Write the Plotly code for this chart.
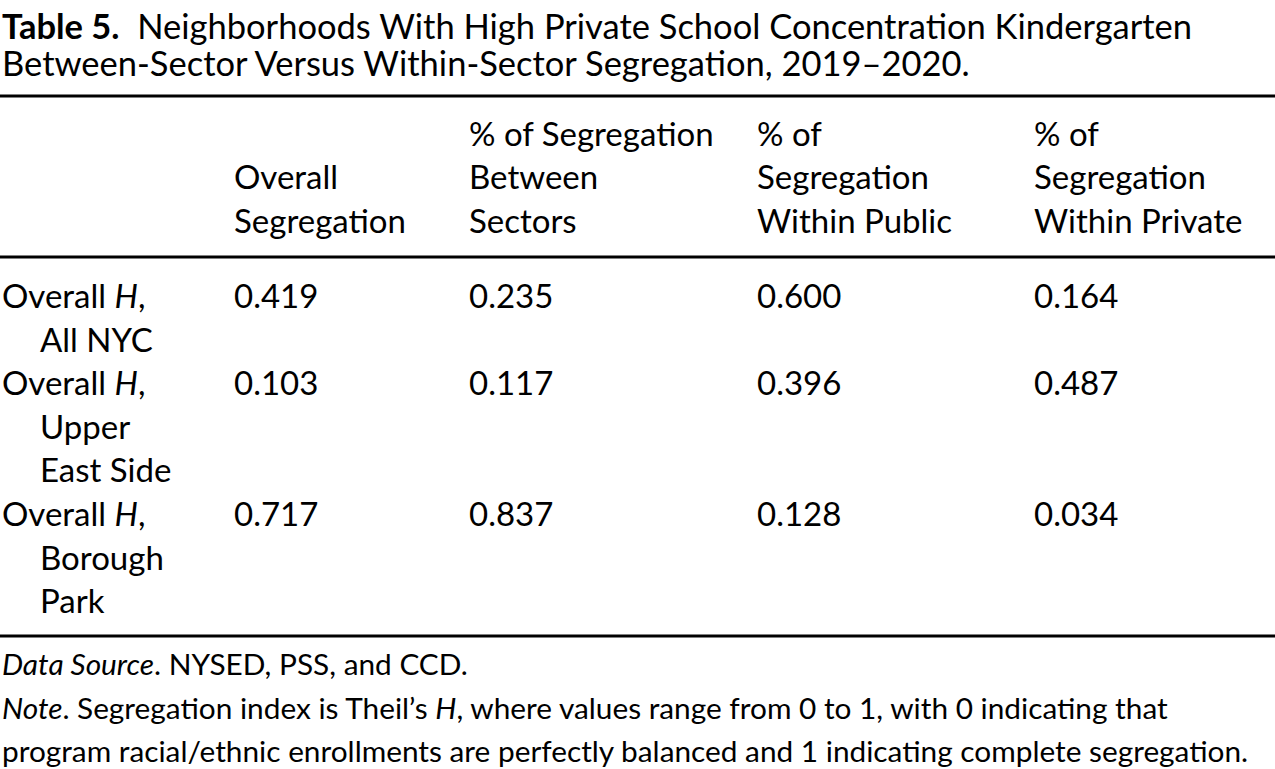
import plotly.graph_objects as go

# ---- data ----
title_bold = "Table 5."
title_lines = [
    "Neighborhoods With High Private School Concentration Kindergarten",
    "Between-Sector Versus Within-Sector Segregation, 2019–2020.",
]
col_headers = [
    [],
    ["Overall", "Segregation"],
    ["% of Segregation", "Between", "Sectors"],
    ["% of", "Segregation", "Within Public"],
    ["% of", "Segregation", "Within Private"],
]
row_labels = [
    ["Overall <i>H</i>,", "All NYC"],
    ["Overall <i>H</i>,", "Upper", "East Side"],
    ["Overall <i>H</i>,", "Borough", "Park"],
]
overall_seg = [0.419, 0.103, 0.717]
between_sectors = [0.235, 0.117, 0.837]
within_public = [0.600, 0.396, 0.128]
within_private = [0.164, 0.487, 0.034]
notes = [
    "<i>Data Source</i>. NYSED, PSS, and CCD.",
    "<i>Note</i>. Segregation index is Theil’s <i>H</i>, where values range from 0 to 1, with 0 indicating that",
    "program racial/ethnic enrollments are perfectly balanced and 1 indicating complete segregation.",
]

# ---- layout constants ----
W, H = 1275, 769
FONT = "Lato, 'Gill Sans', sans-serif"
FS_TITLE = 34.5
FS = 33
FS_NOTE = 29.8
LINE = 43.6
col_x = [0, 232, 467, 755, 1032]
indent = 38
rules = [96, 257, 636]
header_bottom = 220
body_top = 295
title_y = [25, 62]
note_y = [663, 707, 750]

ann = []
def txt(x, y, s, size=FS):
    ann.append(dict(x=x, y=y, xref="x", yref="y", text=s, showarrow=False,
                    xanchor="left", yanchor="middle", align="left",
                    font=dict(family=FONT, size=size, color="black")))

# title
txt(0, title_y[0], f"<b>{title_bold}</b>  {title_lines[0]}", FS_TITLE)
txt(0, title_y[1], title_lines[1], FS_TITLE)

# headers (bottom aligned)
for ci, lines in enumerate(col_headers):
    n = len(lines)
    for li, s in enumerate(lines):
        txt(col_x[ci], header_bottom - (n - 1 - li) * LINE, s)

# body
columns = [overall_seg, between_sectors, within_public, within_private]
y = body_top
for ri, lab in enumerate(row_labels):
    for li, s in enumerate(lab):
        txt(col_x[0] + (indent if li > 0 else 0), y + li * LINE, s)
    for ci, col in enumerate(columns):
        txt(col_x[ci + 1], y, f"{col[ri]:.3f}")
    y += len(lab) * LINE

# notes
for yy, s in zip(note_y, notes):
    txt(0, yy, s, FS_NOTE)

shapes = [dict(type="line", xref="x", yref="y", x0=0, x1=W, y0=r, y1=r,
               line=dict(color="black", width=3)) for r in rules]

fig = go.Figure()
fig.update_layout(
    width=W, height=H, margin=dict(l=0, r=0, t=0, b=0),
    paper_bgcolor="white", plot_bgcolor="white",
    xaxis=dict(range=[0, W], visible=False, fixedrange=True),
    yaxis=dict(range=[H, 0], visible=False, fixedrange=True),
    annotations=ann, shapes=shapes, showlegend=False,
)
fig.write_html(
    "out.html",
    config={"displayModeBar": False},
    post_script="document.body.style.margin='0';document.body.style.overflow='hidden';",
)
